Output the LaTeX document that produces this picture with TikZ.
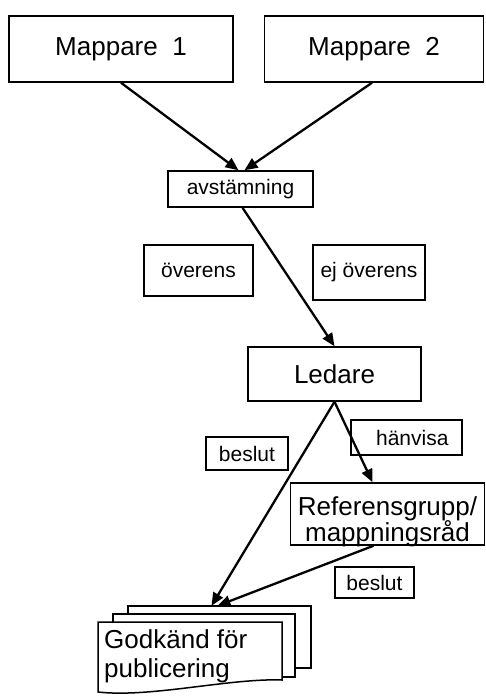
\documentclass[tikz,border=0pt]{standalone}
\usepackage{fontspec}
\setmainfont{Liberation Sans}
\usetikzlibrary{arrows.meta,calc}
\tikzset{
  box/.style={draw, line width=1.5pt, fill=white, inner sep=0pt, align=center},
  big/.style={font=\fontsize{26}{29}\selectfont},
  small/.style={font=\fontsize{21}{24}\selectfont},
  arr/.style={line width=2.3pt, -{Triangle[length=13pt,width=11pt]}},
  sheet/.style={draw, line width=1.5pt, fill=white}
}
\begin{document}
\begin{tikzpicture}[x=1pt,y=-1pt]
\useasboundingbox (0,0) rectangle (485,696);
% top boxes
\node[box,big,minimum width=224pt,minimum height=66pt] (m1) at (121,49) {Mappare\ \ 1};
\node[box,big,minimum width=219pt,minimum height=66pt] (m2) at (374,49) {Mappare\ \ 2};
\node[box,small,minimum width=145pt,minimum height=36pt] (avst) at (240.5,189) {avstämning};
\node[box,small,minimum width=109pt,minimum height=51pt] (over) at (198.5,270.5) {överens};
\node[box,small,minimum width=112pt,minimum height=55pt] (ejover) at (369,272.5) {ej överens};
\node[box,big,minimum width=173pt,minimum height=54pt] (led) at (334.5,374) {Ledare};
\node[box,small,minimum width=111pt,minimum height=35pt] (hanv) at (406.5,437.5) {\ \ hänvisa};
\node[box,small,minimum width=82pt,minimum height=33pt] (besl1) at (247,453.5) {beslut};
\node[box,minimum width=194pt,minimum height=62pt] (ref) at (387.5,514) {};
\node[big,align=center,anchor=base,inner sep=0pt] (reftext) at (387.5,541) {Referensgrupp/\\[-3pt]mappningsråd};
\node[box,small,minimum width=79pt,minimum height=31pt] (besl2) at (374.5,582.5) {beslut};
% multi-document
\draw[sheet] (128,606) rectangle (311,668);
\node[inner sep=0pt,minimum width=183pt,minimum height=62pt] (back) at (219.5,637) {};
\draw[sheet] (113,614) rectangle (295,677);
\draw[sheet] (98,622) -- (282,622) -- (282,680) .. controls (230,678) and (150,698) .. (98,692) -- cycle;
\node[big,align=left,anchor=base west,inner sep=0pt] (god) at (104,677) {Godkänd för\\[0pt]publicering};
% connectors
\draw[arr] (m1.south) -- ([xshift=-2pt]avst.north);
\draw[arr] ([xshift=-2pt]m2.south) -- ([xshift=4pt]avst.north);
\draw[arr] ([xshift=2pt]avst.south) -- (led.north);
\draw[arr] (led.south) -- ([xshift=-15pt]ref.north);
\draw[arr] (led.south) -- ([xshift=-8pt]back.north);
\draw[arr] ([xshift=-14pt]ref.south) -- ([xshift=-2pt]back.north);
\end{tikzpicture}
\end{document}
